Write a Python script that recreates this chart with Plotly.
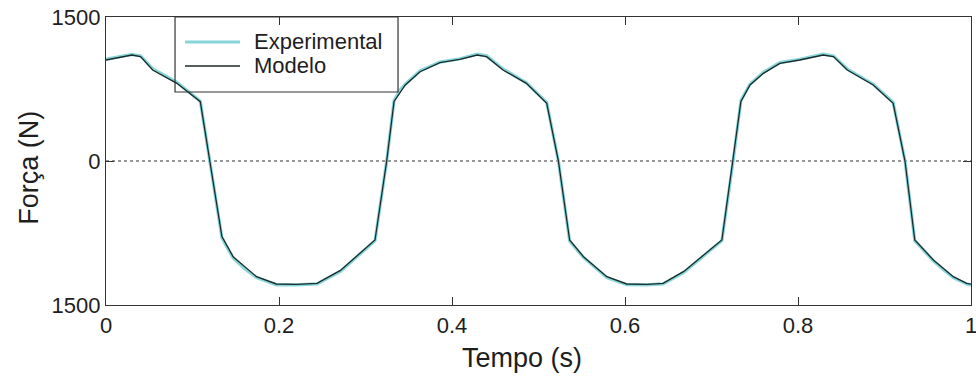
import plotly.graph_objects as go

# Time (s)
t_model = [0.000, 0.012, 0.030, 0.040, 0.054, 0.082, 0.109, 0.120, 0.134, 0.147,
           0.174, 0.197, 0.220, 0.244, 0.271, 0.311, 0.3245, 0.333, 0.346, 0.363,
           0.386, 0.409, 0.429, 0.440, 0.459, 0.486, 0.5095, 0.523, 0.536, 0.552,
           0.579, 0.602, 0.625, 0.644, 0.668, 0.712, 0.725, 0.734, 0.7445, 0.760,
           0.779, 0.802, 0.829, 0.841, 0.857, 0.887, 0.910, 0.9237, 0.935, 0.9565,
           0.9795, 0.995, 1.000]
# Force (N) - model
f_model = [1052, 1075, 1104, 1087, 948, 809, 618, 0, -788, -997,
           -1205, -1281, -1285, -1274, -1140, -823, 0, 620, 792, 930,
           1024, 1059, 1104, 1087, 948, 809, 601, 0, -823, -997,
           -1205, -1281, -1285, -1274, -1150, -823, 0, 620, 792, 913,
           1017, 1052, 1104, 1087, 948, 792, 601, 0, -823, -1031,
           -1205, -1274, -1282]

t_exp = [0.000, 0.012, 0.030, 0.040, 0.054, 0.070, 0.082, 0.109, 0.120, 0.134,
         0.140, 0.147, 0.160, 0.174, 0.197, 0.220, 0.244, 0.271, 0.311, 0.3245,
         0.333, 0.340, 0.346, 0.363, 0.386, 0.409, 0.429, 0.440, 0.459, 0.475,
         0.486, 0.5095, 0.523, 0.536, 0.545, 0.552, 0.579, 0.602, 0.625, 0.644,
         0.668, 0.712, 0.725, 0.734, 0.7445, 0.760, 0.779, 0.802, 0.829, 0.841,
         0.857, 0.875, 0.887, 0.910, 0.9237, 0.935, 0.9565, 0.968, 0.9795, 0.995, 1.000]
f_exp = [1060, 1080, 1110, 1095, 960, 880, 820, 625, 0, -800,
         -900, -1010, -1120, -1215, -1290, -1290, -1280, -1150, -830, 0,
         630, 740, 800, 940, 1030, 1065, 1112, 1095, 958, 870,
         815, 610, 0, -835, -930, -1005, -1215, -1288, -1290, -1280,
         -1160, -830, 0, 630, 800, 925, 1025, 1060, 1112, 1095,
         958, 860, 800, 610, 0, -830, -1040, -1130, -1215, -1282, -1290]

x_ticks = [0, 0.2, 0.4, 0.6, 0.8, 1]
x_ticktext = ["0", "0.2", "0.4", "0.6", "0.8", "1"]
y_ticks = [-1500, 0, 1500]
y_ticktext = ["1500", "0", "1500"]

name_exp = "Experimental"
name_model = "Modelo"
x_title = "Tempo (s)"
y_title = "Força (N)"

FONT = "Liberation Sans, Arial, sans-serif"
TXT = "#1e1e1e"
CYAN = "#86d6da"
BLACK = "#1c2a2a"

fig = go.Figure()
fig.add_trace(go.Scatter(x=t_exp, y=f_exp, mode="lines", name=name_exp,
                         line=dict(color=CYAN, width=3.2), showlegend=False))
fig.add_trace(go.Scatter(x=t_model, y=f_model, mode="lines", name=name_model,
                         line=dict(color=BLACK, width=1.3), showlegend=False))

# dotted zero line
fig.add_shape(type="line", xref="paper", yref="y", x0=0, x1=1, y0=0, y1=0,
              line=dict(color="#333333", width=1.2, dash="dot"), layer="below")

# manual legend box (transparent, curve shows through)
lx0, lx1, ly0, ly1 = 0.0798, 0.3376, 0.7396, 1.0
fig.add_shape(type="rect", xref="paper", yref="paper", x0=lx0, x1=lx1, y0=ly0, y1=ly1,
              line=dict(color="#333333", width=1.2), fillcolor="rgba(0,0,0,0)", layer="above")
legend_items = [(name_exp, CYAN, 3.0, 0.9132), (name_model, BLACK, 1.3, 0.8299)]
for label, col, w, yy in legend_items:
    fig.add_shape(type="line", xref="paper", yref="paper", x0=0.0913, x1=0.1549,
                  y0=yy, y1=yy, line=dict(color=col, width=w), layer="above")
    fig.add_annotation(x=0.1688, y=yy, xref="paper", yref="paper", text=label,
                       showarrow=False, xanchor="left", yanchor="middle",
                       font=dict(family=FONT, size=22, color=TXT))

# axis titles
fig.add_annotation(x=0.481, y=-0.184, xref="paper", yref="paper", text=x_title,
                   showarrow=False, xanchor="center", yanchor="middle",
                   font=dict(family=FONT, size=27, color=TXT))
fig.add_annotation(x=-0.0893, y=0.4757, xref="paper", yref="paper", text=y_title,
                   showarrow=False, xanchor="center", yanchor="middle", textangle=-90,
                   font=dict(family=FONT, size=27, color=TXT))

axis_common = dict(showline=True, linecolor="#333333", linewidth=1.2, mirror="ticks",
                   ticks="inside", ticklen=8, tickcolor="#333333", tickwidth=1,
                   showgrid=False, zeroline=False, ticklabeloverflow="allow",
                   automargin=False,
                   tickfont=dict(family=FONT, size=22, color=TXT))
fig.update_xaxes(range=[0, 1], tickvals=x_ticks, ticktext=x_ticktext, **axis_common)
fig.update_yaxes(range=[-1500, 1500], tickvals=y_ticks, ticktext=y_ticktext, **axis_common)

fig.update_layout(width=976, height=379, margin=dict(l=106, r=5, t=17, b=74, autoexpand=False),
                  paper_bgcolor="white", plot_bgcolor="white",
                  font=dict(family=FONT, color=TXT))
fig.write_html("out.html")
